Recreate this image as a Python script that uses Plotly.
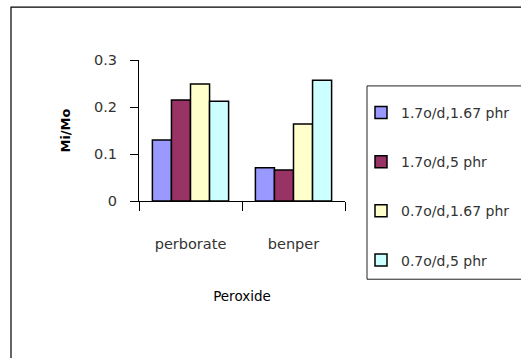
import plotly.graph_objects as go

categories = ["perborate", "benper"]
series_names = ["1.7o/d,1.67 phr", "1.7o/d,5 phr", "0.7o/d,1.67 phr", "0.7o/d,5 phr"]
series_values = [
    [0.130, 0.071],
    [0.215, 0.066],
    [0.249, 0.164],
    [0.212, 0.257],
]
series_colors = ["#9999FF", "#993366", "#FFFFCC", "#CCFFFF"]
y_ticks = [0, 0.1, 0.2, 0.3]
y_tick_labels = ["0", "0.1", "0.2", "0.3"]

W, H = 521, 358
L, R, T, B = 139, 176, 60, 156.5
pw, ph = W - L - R, H - T - B


def px_x(p):
    return (p - L) / pw


def px_y(p):
    return 1 - (p - T) / ph


fig = go.Figure()
for i, (name, vals, col) in enumerate(zip(series_names, series_values, series_colors)):
    fig.add_trace(go.Bar(
        x=categories, y=vals, name=name, legendgroup=f"g{i}",
        marker=dict(color=col, line=dict(color="black", width=1.5)),
    ))

font = "DejaVu Sans, sans-serif"
grey = "#333333"

# outer chart-area frame (runs past the right and bottom edges)
fig.add_shape(type="rect", xref="paper", yref="paper",
              x0=px_x(11), x1=px_x(W + 20), y0=px_y(H + 20), y1=px_y(7),
              line=dict(color="black", width=1.2), fillcolor="rgba(0,0,0,0)", layer="below")
# legend frame (also runs past the right edge)
fig.add_shape(type="rect", xref="paper", yref="paper",
              x0=px_x(367), x1=px_x(W + 20), y0=px_y(280), y1=px_y(86),
              line=dict(color="#222", width=1), fillcolor="white", layer="below")

fig.update_layout(
    width=W, height=H,
    margin=dict(l=L, r=R, t=T, b=B, autoexpand=False),
    paper_bgcolor="white", plot_bgcolor="white",
    barmode="group", bargap=0.26, bargroupgap=0,
    font=dict(family=font, size=13, color=grey),
    showlegend=True,
    legend=dict(
        x=px_x(361), xanchor="left",
        y=px_y(97), yanchor="top",
        borderwidth=0, bgcolor="rgba(0,0,0,0)",
        font=dict(family=font, size=14, color=grey),
        tracegroupgap=28, itemwidth=30,
        maxheight=300,
    ),
    xaxis=dict(
        type="category", range=[-0.5, 1.5],
        showline=True, linecolor="black", linewidth=1,
        ticks="outside", ticklen=9, tickcolor="black", tickson="boundaries",
        ticklabelstandoff=30,
        tickfont=dict(family=font, size=14.5, color=grey),
        title=dict(text="Peroxide", standoff=40,
                   font=dict(family=font, size=13.5, color="black")),
        showgrid=False, zeroline=False,
    ),
    yaxis=dict(
        range=[0, 0.3], tickvals=y_ticks, ticktext=y_tick_labels,
        showline=True, linecolor="black", linewidth=1,
        ticks="outside", ticklen=8, tickcolor="black",
        ticklabelstandoff=10,
        tickfont=dict(family=font, size=14.5, color=grey),
        title=dict(text="<b>Mi/Mo</b>", standoff=20,
                   font=dict(family=font, size=13, color="black")),
        showgrid=False, zeroline=False,
    ),
)

fig.write_html("out.html")
